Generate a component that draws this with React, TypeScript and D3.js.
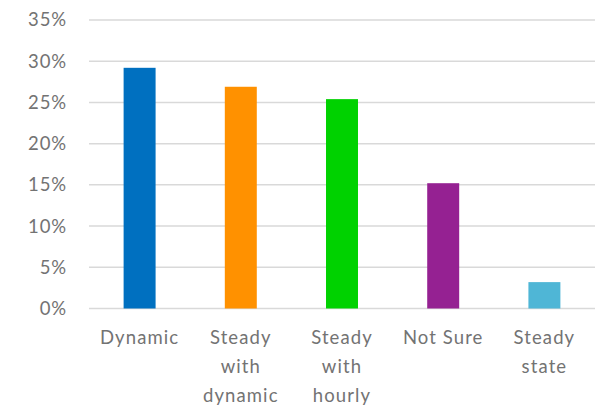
import React from "react";
import * as d3 from "d3";

const categories: string[][] = [
  ["Dynamic"],
  ["Steady", "with", "dynamic"],
  ["Steady", "with", "hourly"],
  ["Not Sure"],
  ["Steady", "state"],
];
const values: number[] = [29.2, 26.9, 25.4, 15.2, 3.2];
const colors: string[] = ["#0070C0", "#FF9100", "#00D200", "#952192", "#4FB6D6"];
const yTicks: number[] = [0, 5, 10, 15, 20, 25, 30, 35];

const W = 602;
const H = 406;
const left = 89;
const right = 595;
const top = 20;
const bottom = 308.5;

export default function App() {
  const x = d3
    .scaleBand<number>()
    .domain(values.map((_, i) => i))
    .range([left, right])
    .paddingInner(0.684)
    .paddingOuter(0.342);
  const y = d3.scaleLinear().domain([0, 35]).range([bottom, top]);
  const font = "Lato, 'Open Sans', sans-serif";
  return (
    <svg
      width={W}
      height={H}
      style={{ position: "absolute", left: 0, top: 0, background: "#fff" }}
    >
      {yTicks.map((t) => (
        <g key={t}>
          <line
            x1={left}
            x2={right}
            y1={y(t)}
            y2={y(t)}
            stroke="#D9D9D9"
            strokeWidth={1.5}
          />
          <text
            x={67}
            y={y(t)}
            dy="0.35em"
            textAnchor="end"
            fontFamily={font}
            fontSize={18.5}
            fill="#737373"
            letterSpacing={0.9}
          >
            {t}%
          </text>
        </g>
      ))}
      {values.map((v, i) => (
        <rect
          key={i}
          x={x(i)}
          y={y(v)}
          width={x.bandwidth()}
          height={y(0) - y(v)}
          fill={colors[i]}
        />
      ))}
      {categories.map((lines, i) => (
        <text
          key={i}
          textAnchor="middle"
          fontFamily={font}
          fontSize={18.5}
          fill="#737373"
          letterSpacing={1.1}
        >
          {lines.map((l, j) => (
            <tspan key={j} x={(x(i) as number) + x.bandwidth() / 2} y={344 + j * 29}>
              {l}
            </tspan>
          ))}
        </text>
      ))}
    </svg>
  );
}
